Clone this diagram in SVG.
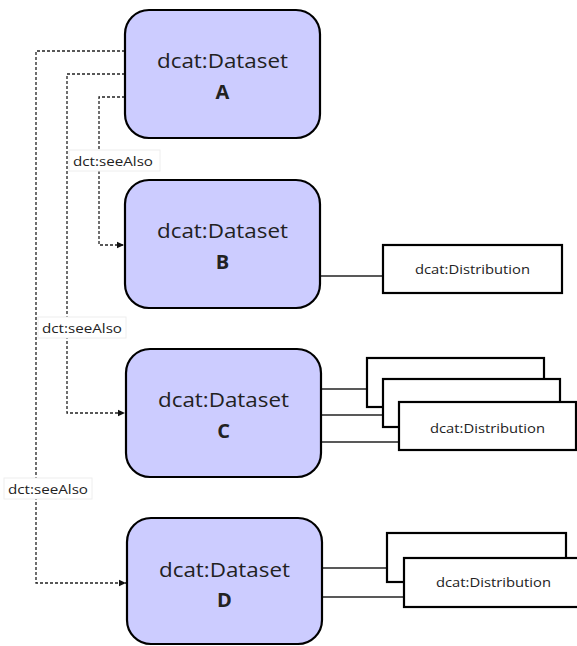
<svg xmlns="http://www.w3.org/2000/svg" width="577" height="646" viewBox="0 0 577 646">
<style>
.ds{fill:#ccccff;stroke:#000;stroke-width:2.2}
.dist{fill:#fff;stroke:#000;stroke-width:2.2}
.t{font-family:"Open Sans","Noto Sans","DejaVu Sans",sans-serif;fill:#222;text-anchor:middle}
.title{font-size:20px}
.letter{font-size:20px;font-weight:bold}
.dt{font-size:12.5px}
.lbl{font-size:12.5px;text-anchor:start}
.dash{fill:none;stroke:#222;stroke-width:1.3;stroke-dasharray:3,2}
.solid{fill:none;stroke:#222;stroke-width:1.3}
.lbg{fill:#fff;stroke:#eeeeee;stroke-width:1}
</style>
<defs>
<marker id="arr" markerWidth="8" markerHeight="8" refX="7" refY="4" orient="auto" markerUnits="userSpaceOnUse">
<path d="M0,0.8 L7,4 L0,7.2 Z" fill="#111"/>
</marker>
</defs>
<g id="connectors">
<path class="dash" d="M125,51 H36 V583 H126" marker-end="url(#arr)"/>
<path class="dash" d="M125,74 H67 V413 H125" marker-end="url(#arr)"/>
<path class="dash" d="M125,97 H99 V245 H124" marker-end="url(#arr)"/>
<path class="solid" d="M320,276 H383"/>
<path class="solid" d="M321,389 H367"/>
<path class="solid" d="M321,415 H383"/>
<path class="solid" d="M321,442 H399"/>
<path class="solid" d="M322,568 H387"/>
<path class="solid" d="M322,597 H404"/>
<g id="label1">
<rect class="lbg" x="69" y="150" width="91" height="21"/>
<text class="t lbl" x="73" y="166" textLength="80" lengthAdjust="spacingAndGlyphs">dct:seeAlso</text>
</g>
<g id="label2">
<rect class="lbg" x="38" y="317" width="88" height="21"/>
<text class="t lbl" x="42" y="333" textLength="80" lengthAdjust="spacingAndGlyphs">dct:seeAlso</text>
</g>
<g id="label3">
<rect class="lbg" x="4" y="478" width="88" height="21"/>
<text class="t lbl" x="8" y="494" textLength="80" lengthAdjust="spacingAndGlyphs">dct:seeAlso</text>
</g>
</g>
<g id="nodeA">
<rect class="ds" x="125" y="10" width="195" height="128" rx="24"/>
<text class="t title" x="222.5" y="68" textLength="131" lengthAdjust="spacingAndGlyphs">dcat:Dataset</text>
<text class="t letter" x="222.5" y="99">A</text>
</g>
<g id="nodeB">
<rect class="ds" x="125" y="180" width="195" height="128" rx="24"/>
<text class="t title" x="222.5" y="238" textLength="131" lengthAdjust="spacingAndGlyphs">dcat:Dataset</text>
<text class="t letter" x="222.5" y="269">B</text>
</g>
<g id="nodeC">
<rect class="ds" x="126" y="349" width="195" height="128" rx="24"/>
<text class="t title" x="223.5" y="407" textLength="131" lengthAdjust="spacingAndGlyphs">dcat:Dataset</text>
<text class="t letter" x="223.5" y="438">C</text>
</g>
<g id="nodeD">
<rect class="ds" x="127" y="518" width="195" height="126" rx="24"/>
<text class="t title" x="224.5" y="577" textLength="131" lengthAdjust="spacingAndGlyphs">dcat:Dataset</text>
<text class="t letter" x="224.5" y="607">D</text>
</g>
<g id="distB">
<rect class="dist" x="383" y="245" width="179" height="48"/>
<text class="t dt" x="472.5" y="274" textLength="115" lengthAdjust="spacingAndGlyphs">dcat:Distribution</text>
</g>
<g id="distC1">
<rect class="dist" x="367" y="358" width="177" height="49"/>
</g>
<g id="distC2">
<rect class="dist" x="383" y="379" width="177" height="48"/>
</g>
<g id="distC3">
<rect class="dist" x="399" y="402" width="177" height="48"/>
<text class="t dt" x="487.5" y="433" textLength="115" lengthAdjust="spacingAndGlyphs">dcat:Distribution</text>
</g>
<g id="distD1">
<rect class="dist" x="387" y="533" width="179" height="49"/>
</g>
<g id="distD2">
<rect class="dist" x="404" y="558" width="179" height="49"/>
<text class="t dt" x="493.5" y="587" textLength="115" lengthAdjust="spacingAndGlyphs">dcat:Distribution</text>
</g>
</svg>
